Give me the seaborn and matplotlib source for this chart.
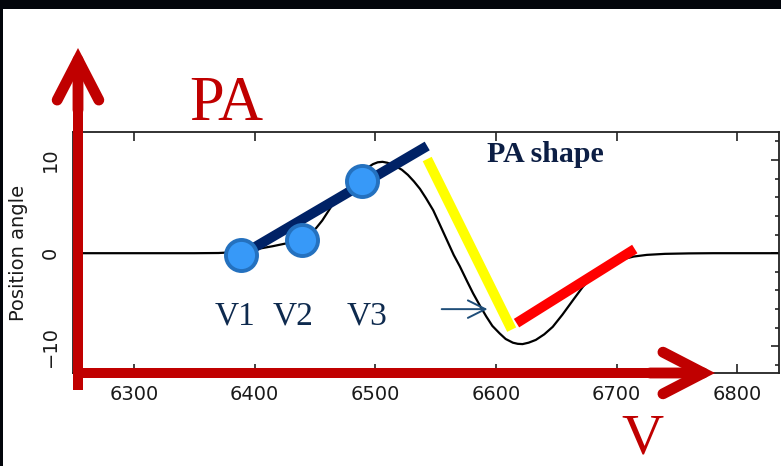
import matplotlib
matplotlib.use("Agg")
import matplotlib.pyplot as plt
import seaborn as sns
from matplotlib.patches import FancyArrowPatch, Rectangle
from matplotlib.lines import Line2D
from matplotlib.ticker import MultipleLocator

# Position-angle swing across the line profile
velocity = [6250, 6300, 6350, 6370, 6385, 6400, 6415, 6428, 6440, 6446,
            6451, 6456, 6460, 6465, 6469, 6473, 6478, 6482, 6486, 6490,
            6494, 6498, 6502, 6506, 6510, 6516, 6522, 6527, 6532, 6537,
            6542, 6548, 6553, 6559, 6565, 6570, 6576, 6581, 6587, 6592,
            6597, 6603, 6608, 6614, 6618, 6622, 6627, 6633, 6640, 6647,
            6655, 6664, 6672, 6680, 6688, 6697, 6705, 6714, 6725, 6740,
            6760, 6780, 6835]
position_angle = [0, 0, 0, 0.02, 0.12, 0.4, 0.75, 1.1, 1.6, 2.1,
                  2.7, 3.5, 4.3, 5.3, 5.9, 6.4, 7.1, 7.7, 8.2, 8.7,
                  9.2, 9.55, 9.75, 9.8, 9.7, 9.4, 8.95, 8.4, 7.7, 6.9,
                  5.9, 4.6, 3.2, 1.5, -0.2, -1.4, -3.0, -4.3, -5.7, -6.8,
                  -7.8, -8.6, -9.2, -9.6, -9.72, -9.75, -9.6, -9.3, -8.7, -7.9,
                  -6.6, -5.0, -3.6, -2.5, -1.7, -1.05, -0.65, -0.36, -0.18, -0.07,
                  -0.02, 0, 0]

# Marked velocity channels
marker_velocity = [6389, 6439, 6489]
marker_pa = [-0.2, 1.4, 7.75]
marker_labels = ["V1", "V2", "V3"]
label_velocity = [6384, 6432, 6493]

x_ticks = [6300, 6400, 6500, 6600, 6700, 6800]
y_ticks = [-10, 0, 10]

# Straight-line guides for the three parts of the PA swing
rise_v, rise_pa = [6389, 6543], [-0.2, 11.5]
fall_v, fall_pa = [6543, 6613], [10.1, -8.2]
recover_v, recover_pa = [6617, 6715], [-7.5, 0.45]
pointer_v, pointer_pa = [6555, 6593], [-6, -6]

sns.set_style("ticks")
plt.rcParams["font.family"] = ["DejaVu Sans"]

W, H = 781, 466
fig = plt.figure(figsize=(W / 100, H / 100), dpi=100)
fig.patch.set_facecolor("white")


def fp(x, y):
    """pixel position -> figure fraction"""
    return (x / W, 1 - y / H)


ax = fig.add_axes([73 / W, 1 - 373 / H, (779 - 73) / W, (373 - 132) / H])
ax.set_facecolor("white")

sns.lineplot(x=velocity, y=position_angle, ax=ax, color="black",
             linewidth=1.6, estimator=None, zorder=2)

sns.lineplot(x=rise_v, y=rise_pa, ax=ax, color="#002266", linewidth=7.2,
             estimator=None, solid_capstyle="butt", zorder=3)
sns.lineplot(x=fall_v, y=fall_pa, ax=ax, color="#FFFF00", linewidth=7.2,
             estimator=None, solid_capstyle="butt", zorder=3)
sns.lineplot(x=recover_v, y=recover_pa, ax=ax, color="#FF0000", linewidth=7.2,
             estimator=None, solid_capstyle="butt", zorder=3)

sns.scatterplot(x=marker_velocity, y=marker_pa, ax=ax, s=500,
                color="#3799F8", edgecolor="#2471BF", linewidth=2.8,
                zorder=4, clip_on=False)

ax.annotate("", xy=(pointer_v[1], pointer_pa[1]),
            xytext=(pointer_v[0], pointer_pa[0]),
            arrowprops=dict(arrowstyle="->,head_length=0.9,head_width=0.45",
                            color="#1F4E79", lw=1.4, mutation_scale=14,
                            shrinkA=0, shrinkB=0))

for lv, lab in zip(label_velocity, marker_labels):
    ax.text(lv, -7.6, lab, ha="center", va="baseline",
            fontfamily="Liberation Serif", fontsize=24, color="#0E2A4E")

ax.text(6592.5, 9.82, "PA shape", ha="left", va="baseline",
        fontfamily="Liberation Serif", fontweight="bold", fontsize=21.5,
        color="#0C1E44")

ax.set_xlim(6249.5, 6834.5)
ax.set_ylim(-12.85, 13.0)
ax.set_xticks(x_ticks)
ax.set_yticks(y_ticks)
ax.yaxis.set_minor_locator(MultipleLocator(2))
ax.tick_params(which="both", direction="in", top=True, right=True,
               width=1.2, color="#222222", labelcolor="#1a1a1a")
ax.tick_params(axis="x", which="major", length=6.5, pad=8.5, labelsize=14)
ax.tick_params(axis="y", which="major", length=5.8, pad=9.4, labelsize=14,
               labelrotation=90)
ax.tick_params(axis="y", which="minor", length=2.9)
for lbl in ax.get_yticklabels():
    lbl.set_va("center")
for sp in ax.spines.values():
    sp.set_linewidth(1.3)
    sp.set_color("#222222")
ax.set_xlabel("")
ax.set_ylabel("Position angle", fontsize=14, color="#1a1a1a")
ax.yaxis.set_label_coords((28 - 73) / 706, 0.5)

# dark frame edges
fig.add_artist(Rectangle((0, 1 - 9 / H), 1, 9 / H, transform=fig.transFigure,
                         facecolor="#02050b", edgecolor="none", zorder=10))
fig.add_artist(Rectangle((0, 0), 2.5 / W, 1, transform=fig.transFigure,
                         facecolor="#02050b", edgecolor="none", zorder=10))

# big red PA / V axis arrows
RED = "#C00000"


def red_arrow(start, tip, head_from):
    fig.add_artist(Line2D([fp(*start)[0], fp(*head_from)[0]],
                          [fp(*start)[1], fp(*head_from)[1]],
                          transform=fig.transFigure, color=RED, lw=7.2,
                          solid_capstyle="butt", zorder=11))
    fig.add_artist(FancyArrowPatch(fp(*head_from), fp(*tip),
                                   transform=fig.transFigure,
                                   arrowstyle="->,head_length=29,head_width=15",
                                   mutation_scale=1, color=RED, lw=7.8,
                                   capstyle="round", joinstyle="miter",
                                   shrinkA=0, shrinkB=0, zorder=11))


red_arrow((78, 390), (78, 48), (78, 110))
red_arrow((73, 373), (715, 373), (650, 373))

fig.text(*fp(189, 120), "PA", fontfamily="Liberation Serif", fontsize=45,
         color=RED, va="baseline", ha="left")
fig.text(*fp(621, 453), "V", fontfamily="Liberation Serif", fontsize=42,
         color=RED, va="baseline", ha="left")

fig.savefig("out.png", dpi=100)
